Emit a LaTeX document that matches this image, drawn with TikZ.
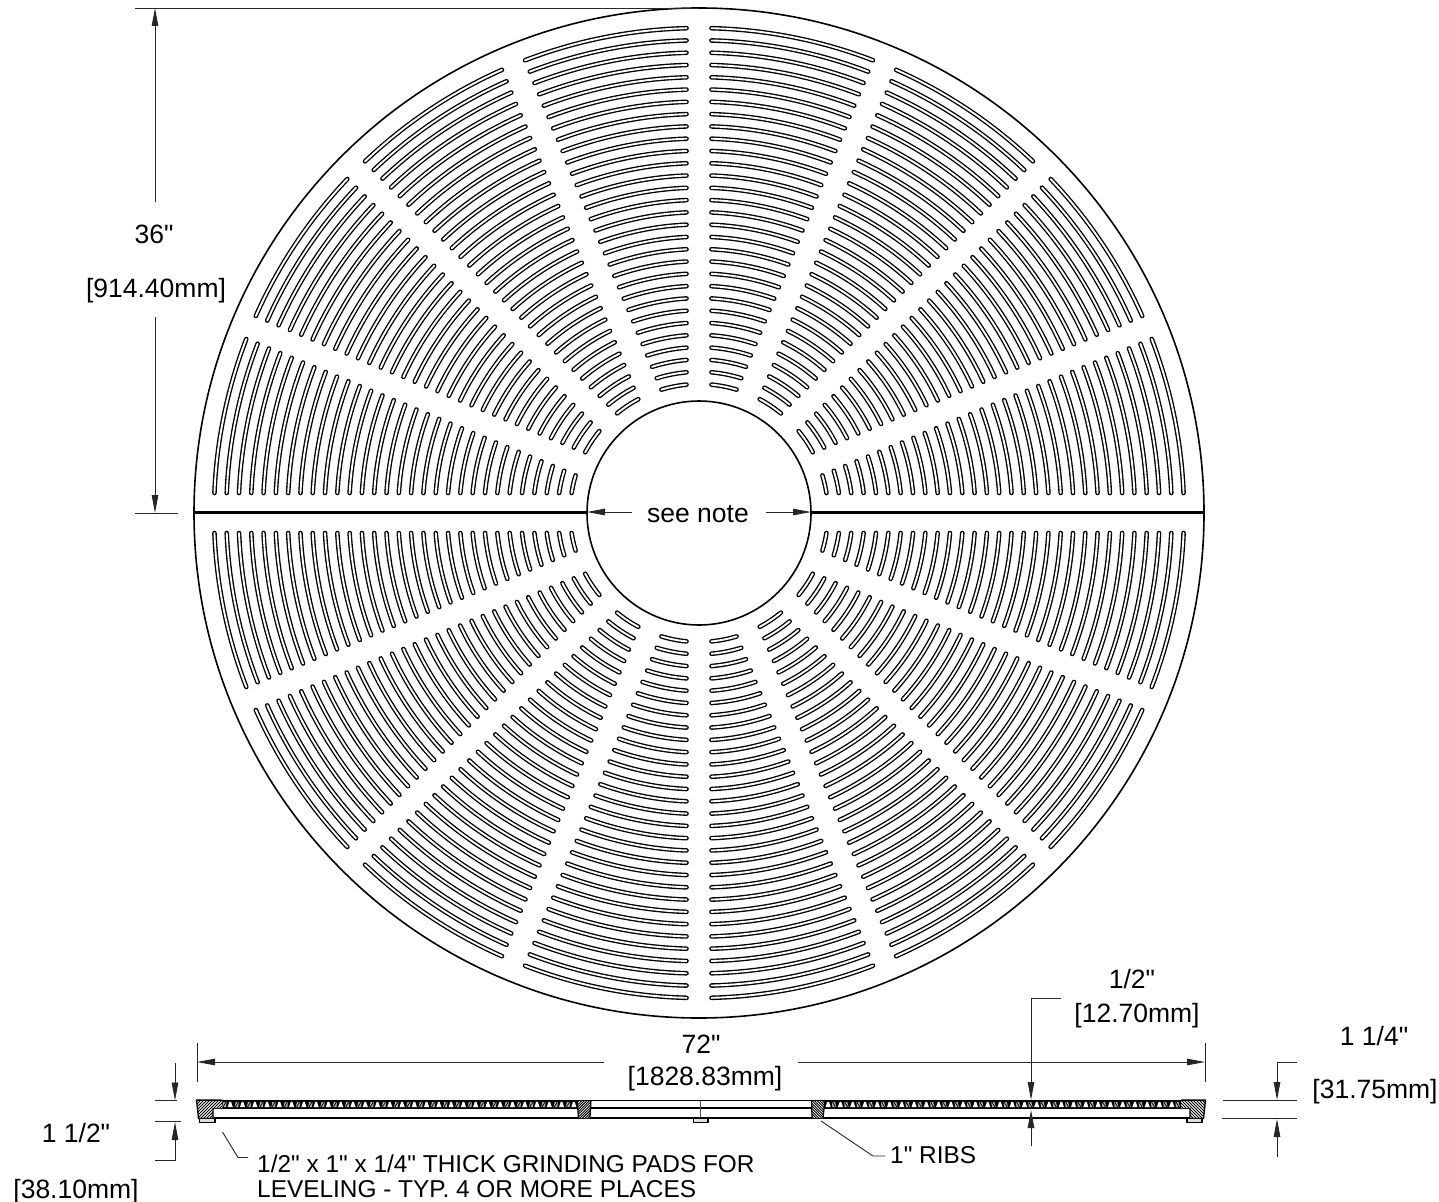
\documentclass[tikz,border=0pt]{standalone}
\usepackage{fontspec}
\newfontfamily\plainf{Liberation Sans}
\usetikzlibrary{arrows.meta}
\tikzset{
  slotout/.style={line width=4.6pt,line cap=round,black},
  slotin/.style={line width=1.9pt,line cap=round,white},
  rim/.style={line width=1.6pt,black},
  dim/.style={line width=0.9pt,black!85},
  tipend/.style={-{Triangle[length=18pt,width=6.5pt]}},
  lab/.style={anchor=base,inner sep=0pt,font=\plainf\fontsize{26.5}{27}\selectfont,text=black},
  note/.style={anchor=base west,inner sep=0pt,font=\plainf\fontsize{24.4}{25}\selectfont,text=black},
  hatchline/.style={line width=0.9pt,black},
  pad/.style={line width=1.3pt,fill=black!12,draw=black}
}
\begin{document}
\begin{tikzpicture}[x=1pt,y=1pt]
\path[use as bounding box,fill=white] (0,0) rectangle (1439,-1201);
\coordinate (C) at (699,-513);
% slots
\foreach \k in {0,...,15} {
  \pgfmathsetmacro\ta{22.5*\k}
  \pgfmathsetmacro\tb{\ta+22.5}
  \pgfmathsetmacro\da{(mod(\k,8)==0)?20:12.5}
  \pgfmathsetmacro\db{(mod(\k,8)==7)?20:12.5}
  \foreach \i in {0,...,29} {
    \pgfmathsetmacro\r{485-12.276*\i}
    \pgfmathsetmacro\sa{\ta+asin(\da/\r)}
    \pgfmathsetmacro\sb{\tb-asin(\db/\r)}
    \draw[slotout] (C) ++(\sa:\r) arc[start angle=\sa,end angle=\sb,radius=\r];
    \draw[slotin] (C) ++(\sa:\r) arc[start angle=\sa,end angle=\sb,radius=\r];
  }
}
% disc outlines
\draw[rim] (C) circle[radius=505];
\draw[rim] (C) circle[radius=112];
\draw[line width=2.6pt] (194,-512.5) -- (587,-512.5);
\draw[line width=2.6pt] (811,-512.5) -- (1204,-512.5);
% section: band
\fill[black] (197,-1100) rectangle (1205,-1108.5);
\fill[white] (591,-1101.2) rectangle (811,-1107.3);
\foreach \i in {0,...,29} {
  \pgfmathsetmacro\xl{218+12.27*\i}
  \pgfmathsetmacro\xr{1184-12.27*\i}
  \fill[white] (\xl-2.6,-1107.2) -- (\xl-0.8,-1101.8) -- (\xl+0.8,-1101.8) -- (\xl+2.6,-1107.2) -- cycle;
  \fill[white] (\xr-2.6,-1107.2) -- (\xr-0.8,-1101.8) -- (\xr+0.8,-1101.8) -- (\xr+2.6,-1107.2) -- cycle;
  \fill[black!28] (\xl+4.2,-1107) -- (\xl+5.4,-1102) -- (\xl+8.6,-1102) -- (\xl+8,-1107) -- cycle;
  \fill[black!28] (\xr-4.2,-1107) -- (\xr-5.4,-1102) -- (\xr-8.6,-1102) -- (\xr-8,-1107) -- cycle;
  \draw[line width=0.8pt] (\xl+5,-1107) -- (\xl+8,-1102);
  \draw[line width=0.8pt] (\xr-5,-1107) -- (\xr-8,-1102);
}
\fill[white] (213,-1108.8) rectangle (1190,-1117);
\draw[line width=0.5pt,black!70] (700,-1100) -- (700,-1118);
\draw[line width=2pt] (212,-1118) -- (1191,-1118);
% end blocks and ribs
\begin{scope}
  \clip (196.5,-1100) -- (222,-1100) -- (222,-1108) -- (213,-1108) -- (213,-1118.5) -- (198.5,-1118.5) -- cycle;
  \fill[white] (190,-1125) rectangle (230,-1095);
  \foreach \x in {170,173,...,226} \draw[hatchline] (\x,-1122) -- (\x+25,-1097);
\end{scope}
\draw[line width=1.3pt] (213,-1108) -- (213,-1118.5) -- (198.5,-1118.5) -- (196.5,-1100) -- (222,-1100);
\begin{scope}
  \clip (1205.5,-1100) -- (1181,-1100) -- (1181,-1108) -- (1190,-1108) -- (1190,-1118.5) -- (1203.5,-1118.5) -- cycle;
  \fill[white] (1175,-1125) rectangle (1210,-1095);
  \foreach \x in {1160,1163,...,1212} \draw[hatchline] (\x,-1097) -- (\x+25,-1122);
\end{scope}
\draw[line width=1.3pt] (1190,-1108) -- (1190,-1118.5) -- (1203.5,-1118.5) -- (1205.5,-1100) -- (1181,-1100);
\begin{scope}
  \clip (577,-1100) -- (591,-1100) -- (590,-1118) -- (578.5,-1118) -- cycle;
  \fill[white] (570,-1125) rectangle (600,-1095);
  \foreach \x in {550,552.6,...,595} \draw[hatchline] (\x,-1122) -- (\x+25,-1097);
\end{scope}
\draw[line width=1.2pt] (577,-1100) -- (578.5,-1118) (591,-1100) -- (590,-1118);
\begin{scope}
  \clip (811.5,-1100) -- (825,-1100) -- (823,-1118) -- (812,-1118) -- cycle;
  \fill[white] (805,-1125) rectangle (830,-1095);
  \foreach \x in {790,792.6,...,830} \draw[hatchline] (\x,-1097) -- (\x+25,-1122);
\end{scope}
\draw[line width=1.2pt] (811.5,-1100) -- (812,-1118) (825,-1100) -- (823,-1118);
\draw[line width=1.4pt] (197,-1100.4) -- (1205,-1100.4);
% pads
\draw[pad] (199.5,-1118.5) rectangle (215,-1122.5);
\draw[pad] (693.5,-1118.5) rectangle (708,-1122.5);
\draw[pad] (1187,-1118.5) rectangle (1202,-1122.5);
% 36 in dimension
\draw[dim] (135,-8) -- (699,-8);
\draw[dim] (135,-513) -- (178,-513);
\draw[dim,tipend] (155,-202) -- (155,-8);
\draw[dim,tipend] (155,-317) -- (155,-513);
\node[lab] (d36a) at (154,-243) {36"};
\node[lab] (d36b) at (156,-297) {[914.40mm]};
% see note
\draw[dim,tipend] (632,-512) -- (587,-512);
\draw[dim,tipend] (766,-512) -- (811,-512);
\node[lab] (seenote) at (698,-522) {see note};
% 72 in dimension
\draw[dim] (197,-1043) -- (197,-1082);
\draw[dim] (1205,-1043) -- (1205,-1082);
\draw[dim,tipend] (604,-1062) -- (197,-1062);
\draw[dim,tipend] (798,-1062) -- (1205,-1062);
\node[lab] (d72a) at (701,-1053) {72"};
\node[lab] (d72b) at (705,-1085) {[1828.83mm]};
% 1/2 in dimension
\draw[dim,tipend] (1061,-998) -- (1031,-998) -- (1031,-1100);
\draw[dim,tipend] (1031,-1146) -- (1031,-1110);
\node[lab] (d12a) at (1132,-988) {1/2"};
\node[lab] (d12b) at (1137,-1022) {[12.70mm]};
% 1 1/4 in dimension
\draw[dim] (1223,-1100.5) -- (1297,-1100.5);
\draw[dim] (1222,-1118.5) -- (1297,-1118.5);
\draw[dim,tipend] (1297,-1062) -- (1277,-1062) -- (1277,-1100);
\draw[dim,tipend] (1277,-1157) -- (1277,-1119);
\node[lab] (d114a) at (1374,-1045) {1 1/4"};
\node[lab] (d114b) at (1375,-1098) {[31.75mm]};
% 1 1/2 in dimension
\draw[dim] (155,-1100.7) -- (177,-1100.7);
\draw[dim] (155,-1121.5) -- (181,-1121.5);
\draw[dim,tipend] (175,-1063) -- (175,-1100.5);
\draw[dim,tipend] (155,-1160) -- (175,-1160) -- (175,-1122);
\node[lab] (d112a) at (76,-1142) {1 1/2"};
\node[lab] (d112b) at (76,-1198) {[38.10mm]};
% leaders and notes
\draw[dim] (222.5,-1132) -- (238,-1157.5) -- (248,-1157.5);
\node[note] (padnoteA) at (257,-1172) {1/2" x 1" x 1/4" THICK GRINDING PADS FOR};
\node[note] (padnoteB) at (257,-1197) {LEVELING - TYP. 4 OR MORE PLACES};
\draw[dim] (821,-1121) -- (873,-1156) -- (885,-1156);
\node[note] (ribnote) at (890,-1163) {1" RIBS};
\end{tikzpicture}
\end{document}
